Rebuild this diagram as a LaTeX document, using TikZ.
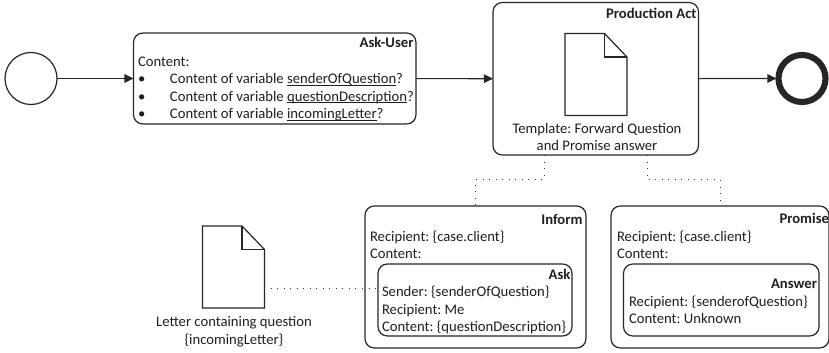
\documentclass[tikz,border=0pt]{standalone}
\usepackage{fontspec}
\setmainfont{Carlito}
\usetikzlibrary{arrows.meta,calc}
\newcommand\pxu{0.75pt}
\newcommand\ulx[1]{\sbox0{#1}\rlap{\rule[-1.5pt]{\wd0}{0.45pt}}\usebox0}
\newcommand\docicon[1]{%
  \draw[docline] (#1.north west) -- ($(#1.north west)+(39.5,0)$) -- ($(#1.north east)+(0,23.5)$) -- (#1.south east) -- (#1.south west) -- cycle;
  \draw[docline] ($(#1.north west)+(39.5,0)$) -- ($(#1.north west)+(39.5,23.5)$) -- ($(#1.north east)+(0,23.5)$);
}
\tikzset{
  lbl/.style={inner sep=0pt,outer sep=0pt,text=black!88,font=\fontsize{11}{13.1}\selectfont\frenchspacing},
  left lbl/.style={lbl,align=left,anchor=base west},
  title lbl/.style={lbl,anchor=base east,font=\fontsize{11}{13.1}\selectfont\bfseries},
  mid lbl/.style={lbl,align=center,anchor=base},
  tbox/.style={draw=black!85,line width=0.9pt,rounded corners=7pt,fill=white,inner sep=0pt,outer sep=0pt},
  ev/.style={circle,draw=black!85,fill=white,inner sep=0pt,outer sep=0pt},
  docbox/.style={inner sep=0pt,outer sep=0pt,minimum width=62*\pxu,minimum height=82*\pxu},
  docline/.style={draw=black!85,line width=0.9pt,line join=miter},
  flow/.style={draw=black!85,line width=0.9pt,-{Triangle[length=6.8pt,width=6.4pt]}},
  assoc/.style={draw=black!80,line width=0.7pt,dash pattern=on 0.7pt off 4.2pt},
}
\begin{document}
\begin{tikzpicture}[x=0.75pt,y=-0.75pt]
\useasboundingbox (0,0) rectangle (829,353);
% events
\node[ev,line width=0.9pt,minimum size=52*\pxu] (start) at (31,78.5) {};
\node[ev,line width=4.6pt,minimum size=47*\pxu] (end) at (802,78.5) {};
% activities
\node[tbox,minimum width=282.5*\pxu,minimum height=91*\pxu] (askuser) at (274.75,78.5) {};
\node[tbox,minimum width=205.5*\pxu,minimum height=152.5*\pxu] (prod) at (595.75,78.75) {};
\node[tbox,minimum width=221*\pxu,minimum height=142*\pxu] (inform) at (475.5,277) {};
\node[tbox,minimum width=194*\pxu,minimum height=72*\pxu] (ask) at (475,300) {};
\node[tbox,minimum width=218*\pxu,minimum height=142*\pxu] (promise) at (720,277) {};
\node[tbox,minimum width=195.5*\pxu,minimum height=72*\pxu] (answer) at (721.25,300) {};
% documents
\node[docbox] (doctpl) at (596,74.5) {};
\docicon{doctpl}
\node[docbox] (docletter) at (233.5,267) {};
\docicon{docletter}
% flows
\draw[flow] (start) -- (askuser);
\draw[flow] (askuser) -- (prod);
\draw[flow] (prod) -- ($(end.west)+(-2,0)$);
% associations
\coordinate (prodl) at (544,155);
\coordinate (prodr) at (647,155);
\coordinate (letterdot) at (264,288);
\draw[assoc] (prodl) -- ++(0,24.5) -| (inform.north);
\draw[assoc] (prodr) -- ++(0,24.5) -| (promise.north);
\draw[assoc] (letterdot) -- (ask.west |- letterdot);
% labels
\node[title lbl] (tasku) at (413.5,48) {Ask-User};
\node[left lbl] (lasku) at (138,118.5) {Content:\\\makebox[24pt][l]{•}Content of variable \ulx{senderOfQuestion}?\\\makebox[24pt][l]{•}Content of variable \ulx{questionDescription}?\\\makebox[24pt][l]{•}Content of variable \ulx{incomingLetter}?};
\node[title lbl] (tprod) at (696.5,19) {Production Act};
\node[mid lbl] (lprod) at (597,151) {Template: Forward Question\\and Promise answer};
\node[mid lbl] (lletter) at (234,344) {Letter containing question\\\{incomingLetter\}};
\node[title lbl] (tinform) at (582.5,224) {Inform};
\node[left lbl] (linform) at (370,258.5) {Recipient: \{case.client\}\\Content:};
\node[title lbl] (task) at (570.5,279) {Ask};
\node[left lbl] (lask) at (382,331.5) {Sender: \{senderOfQuestion\}\\Recipient: Me\\Content: \{questionDescription\}};
\node[title lbl] (tpromise) at (829,223) {Promise};
\node[left lbl] (lpromise) at (617,258.5) {Recipient: \{case.client\}\\Content:};
\node[title lbl] (tanswer) at (817,288) {Answer};
\node[left lbl] (lanswer) at (629,323.5) {Recipient: \{senderofQuestion\}\\Content: Unknown};
\end{tikzpicture}
\end{document}
